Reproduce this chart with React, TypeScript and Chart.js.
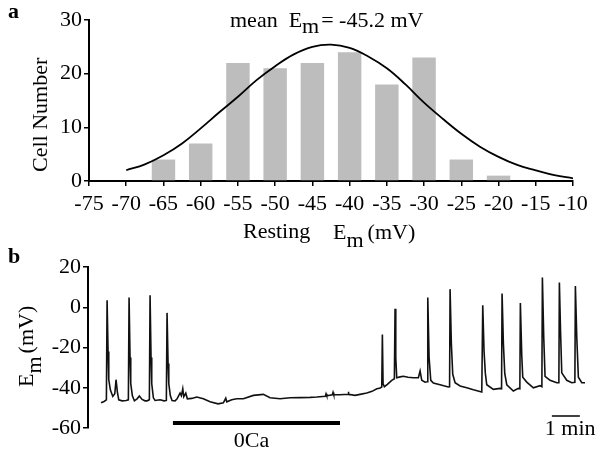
import React, { useEffect, useRef } from "react";
import { Chart, registerables } from "chart.js";

Chart.register(...registerables);

const FONT = "'Liberation Serif', 'Times New Roman', serif";

// ---------- Panel a: histogram of resting membrane potential ----------
const xTicksA = [-75, -70, -65, -60, -55, -50, -45, -40, -35, -30, -25, -20, -15, -10];
const yTicksA = [0, 10, 20, 30];
const binCenters = [-65, -60, -55, -50, -45, -40, -35, -30, -25, -20];
const cellCounts = [4, 7, 22, 21, 22, 24, 18, 23, 4, 1];
const fitX = [-70, -67.5, -65, -62.5, -60, -57.5, -55, -52.5, -50, -47.5, -45, -42.5, -40, -37.5, -35, -32.5, -30, -27.5, -25, -22.5, -20, -17.5, -15, -12.5, -10];
const fitY = [2.0, 3.1, 4.8, 7.0, 9.8, 12.8, 15.7, 18.8, 21.4, 23.6, 25.0, 25.4, 24.8, 23.2, 21.0, 18.0, 14.6, 11.6, 8.8, 6.4, 4.5, 3.0, 2.0, 1.1, 0.5];
const meanEm = -45.2;

// ---------- Panel b: membrane potential trace (time in s, Em in mV) ----------
const yTicksB = [-60, -40, -20, 0, 20];
const traceTime = [
  0, 6.4, 11.4, 12.9, 15.0, 16.5, 19.9, 25.1, 29.4, 32.1,
  34.9, 37.9, 45.0, 53.6, 58.5, 60.0, 62.1, 63.6, 67.1, 71.4,
  77.1, 82.1, 87.9, 94.3, 98.6, 103.5, 105.0, 107.1, 108.6, 112.1,
  115.7, 126.4, 135.0, 139.9, 141.4, 143.6, 145.1, 148.5, 152.1, 158.6,
  162.9, 165.6, 169.3, 172.1, 175.1, 177.2, 181.5, 184.9, 194.4, 205.1,
  219.2, 233.6, 250.7, 262.1, 267.2, 269.4, 280.1, 290.8, 304.9, 326.4,
  347.8, 362.1, 383.6, 405.0, 426.4, 447.9, 462.2, 480.6, 482.1, 483.6,
  495.6, 497.1, 498.6, 512.1, 529.3, 529.9, 530.8, 544.3, 555.0, 569.4,
  580.7, 590.8, 596.8, 601.5, 602.8, 604.3, 607.1, 613.5, 622.9, 628.5,
  630.0, 631.5, 633.6, 640.7, 647.8, 657.9, 669.2, 679.9, 683.6, 687.2,
  694.3, 698.6, 700.1, 702.9, 706.5, 712.1, 726.4, 744.2, 746.8, 747.9,
  750.6, 753.6, 758.6, 769.3, 783.6, 797.8, 815.8, 817.9, 820.7, 823.5,
  826.5, 840.6, 855.0, 858.2, 859.3, 862.1, 865.1, 869.4, 883.5, 894.2,
  897.4, 898.5, 901.5, 903.6, 912.2, 926.4, 940.7, 944.6, 945.7, 948.6,
  951.4, 962.1, 976.5, 981.0, 982.1, 984.6, 987.2, 997.9, 1008.6, 1015.3,
  1016.4, 1019.4, 1022.8, 1030.1, 1037.1,
];
const traceEm = [
  -47.4, -46.8, -46.0, 3.5, -22, -36, -41, -44.3, -43, -36,
  -42, -46, -46.5, -46.3, -46, 4.8, -25, -38, -44, -46.5,
  -45.5, -44.1, -45.8, -46.5, -46.5, -46, 6.0, -25, -38, -45,
  -46.3, -46, -46.5, -46.3, -2.8, -28, -38, -44, -46.3, -46.5,
  -45.5, -44.3, -42.6, -44, -40.5, -44.5, -42.7, -45.5, -45.3, -44.6,
  -45.5, -47, -48, -47.5, -45.2, -47, -46, -45.5, -45.5, -43.8,
  -43.3, -45, -45.5, -45, -44.9, -44.8, -44.6, -44.2, -43.0, -44,
  -43.5, -42.3, -43.5, -43.5, -43.2, -42.0, -43.3, -43.8, -43.3, -42.6,
  -41.8, -40.5, -40.3, -39.6, -13.6, -38, -39.5, -38.3, -36.3, -35.5,
  -0.7, -25, -35, -34.6, -34.3, -34.8, -35, -35, -31.7, -36.3,
  -37.2, -37, 4.8, -25, -36.3, -37.7, -38.5, -39.6, -39.5, 9.0,
  -18, -33.3, -37.5, -39.1, -40, -41, -42.1, 1.0, -22, -33,
  -38.5, -40.8, -40.3, -40.5, 6.8, -18, -33, -38.5, -41.6, -40.3,
  -40.5, 2.1, -24, -34.8, -37.2, -40, -39, -39.5, 14.8, -15,
  -34.3, -36.3, -37.5, -37.5, 12.3, -12, -32.6, -36.3, -37.5, -37.3,
  10.6, -15, -34.8, -37.5, -37.5,
];
const zeroCaPeriod = [154, 512]; // s, 0 Ca perfusion
const scaleBar = [966, 1026]; // s, 1 min

function rich(ctx: CanvasRenderingContext2D, x: number, y: number, parts: Array<[string, number, number?]>) {
  let cx = x;
  for (const [t, dy, gap] of parts) {
    cx += gap || 0;
    ctx.fillText(t, cx, y + dy);
    cx += ctx.measureText(t).width;
  }
}

const axisCommon = {
  border: { display: true, color: "#000", width: 2 },
  grid: { display: true, drawOnChartArea: false, drawTicks: true, tickLength: 5, color: "#000", lineWidth: 1.5 },
};

export default function App() {
  const refA = useRef<HTMLCanvasElement>(null);
  const refB = useRef<HTMLCanvasElement>(null);

  useEffect(() => {
    Chart.defaults.font.family = FONT;
    Chart.defaults.color = "#000";

    const annA = {
      id: "annA",
      afterDraw(chart: any) {
        const ctx = chart.ctx as CanvasRenderingContext2D;
        ctx.save();
        ctx.fillStyle = "#000";
        ctx.textAlign = "left";
        ctx.textBaseline = "alphabetic";
        ctx.font = `bold 22px ${FONT}`;
        ctx.fillText("a", 8, 18);
        ctx.font = `22px ${FONT}`;
        rich(ctx, 230, 27, [["mean  E", 0], ["m", 6], ["= " + meanEm.toFixed(1) + " mV", 0, 2]]);
        ctx.fillText("Resting", 243, 238);
        rich(ctx, 333, 239, [["E", 0], ["m", 8], ["(mV)", 0, 4]]);
        ctx.translate(47, 172);
        ctx.rotate(-Math.PI / 2);
        ctx.fillText("Cell Number", 0, 0);
        ctx.restore();
      },
    };

    const chartA = new Chart(refA.current!, {
      type: "bar",
      data: {
        datasets: [
          {
            type: "line",
            data: fitX.map((x, i) => ({ x, y: fitY[i] })),
            borderColor: "#000",
            borderWidth: 1.8,
            pointRadius: 0,
            tension: 0.4,
            fill: false,
          } as any,
          {
            type: "bar",
            data: binCenters.map((x, i) => ({ x, y: cellCounts[i] })),
            backgroundColor: "#bdbdbd",
            borderWidth: 0,
            barPercentage: 0.63,
            categoryPercentage: 1,
          },
        ],
      },
      options: {
        responsive: false,
        animation: false,
        events: [],
        layout: { padding: { top: 20, right: 27, left: 0, bottom: 0 } },
        plugins: { legend: { display: false }, tooltip: { enabled: false }, title: { display: false } },
        scales: {
          x: {
            type: "linear",
            min: -75,
            max: -10,
            offset: false,
            ...axisCommon,
            grid: { ...axisCommon.grid, offset: false },
            ticks: { font: { size: 22, family: FONT }, color: "#000", padding: 5, maxRotation: 0, autoSkip: false },
            afterBuildTicks: (s: any) => { s.ticks = xTicksA.map((v) => ({ value: v })); },
            afterFit: (s: any) => { s.height = 72; },
          },
          y: {
            type: "linear",
            min: 0,
            max: 30,
            ...axisCommon,
            ticks: { font: { size: 22, family: FONT }, color: "#000", padding: 2 },
            afterBuildTicks: (s: any) => { s.ticks = yTicksA.map((v) => ({ value: v })); },
            afterFit: (s: any) => { s.width = 89; },
          },
        },
      },
      plugins: [annA],
    } as any);

    const annB = {
      id: "annB",
      afterDraw(chart: any) {
        const ctx = chart.ctx as CanvasRenderingContext2D;
        const xs = chart.scales.x;
        const bottom = chart.chartArea.bottom;
        ctx.save();
        ctx.fillStyle = "#000";
        ctx.strokeStyle = "#000";
        ctx.textAlign = "left";
        ctx.textBaseline = "alphabetic";
        ctx.font = `bold 22px ${FONT}`;
        ctx.fillText("b", 8, 23);
        ctx.font = `22px ${FONT}`;
        // 0 Ca bar
        const x1 = xs.getPixelForValue(zeroCaPeriod[0]);
        const x2 = xs.getPixelForValue(zeroCaPeriod[1]);
        ctx.lineWidth = 4;
        ctx.beginPath();
        ctx.moveTo(x1, bottom - 5);
        ctx.lineTo(x2, bottom - 5);
        ctx.stroke();
        ctx.textAlign = "center";
        ctx.fillText("0Ca", (x1 + x2) / 2 - 5, bottom + 19);
        // scale bar
        const s1 = xs.getPixelForValue(scaleBar[0]);
        const s2 = xs.getPixelForValue(scaleBar[1]);
        ctx.lineWidth = 1.5;
        ctx.beginPath();
        ctx.moveTo(s1, bottom - 12);
        ctx.lineTo(s2, bottom - 12);
        ctx.stroke();
        ctx.textAlign = "left";
        ctx.fillText("1 min", s1 - 7, bottom + 7);
        // y title
        ctx.translate(33, 147);
        ctx.rotate(-Math.PI / 2);
        rich(ctx, 0, 0, [["E", 0], ["m", 8], ["(mV)", 0, 3]]);
        ctx.restore();
      },
    };

    const chartB = new Chart(refB.current!, {
      type: "line",
      data: {
        datasets: [
          {
            data: traceTime.map((t, i) => ({ x: t, y: traceEm[i] })),
            borderColor: "#111",
            borderWidth: 1.6,
            pointRadius: 0,
            tension: 0,
            fill: false,
          },
        ],
      },
      options: {
        responsive: false,
        animation: false,
        events: [],
        layout: { padding: { top: 27, right: 15, left: 0, bottom: 25 } },
        plugins: { legend: { display: false }, tooltip: { enabled: false } },
        scales: {
          x: { type: "linear", display: false, min: -28, max: 1037 },
          y: {
            type: "linear",
            min: -60,
            max: 20,
            ...axisCommon,
            ticks: { font: { size: 22, family: FONT }, color: "#000", padding: 2 },
            afterBuildTicks: (s: any) => { s.ticks = yTicksB.map((v) => ({ value: v })); },
            afterFit: (s: any) => { s.width = 88; },
          },
        },
      },
      plugins: [annB],
    } as any);

    return () => {
      chartA.destroy();
      chartB.destroy();
    };
  }, []);

  return (
    <div style={{ position: "absolute", left: 0, top: 0, width: 600, height: 453, background: "#fff" }}>
      <canvas ref={refA} width={600} height={253} style={{ position: "absolute", left: 0, top: 0 }} />
      <canvas ref={refB} width={600} height={213} style={{ position: "absolute", left: 0, top: 240 }} />
    </div>
  );
}
